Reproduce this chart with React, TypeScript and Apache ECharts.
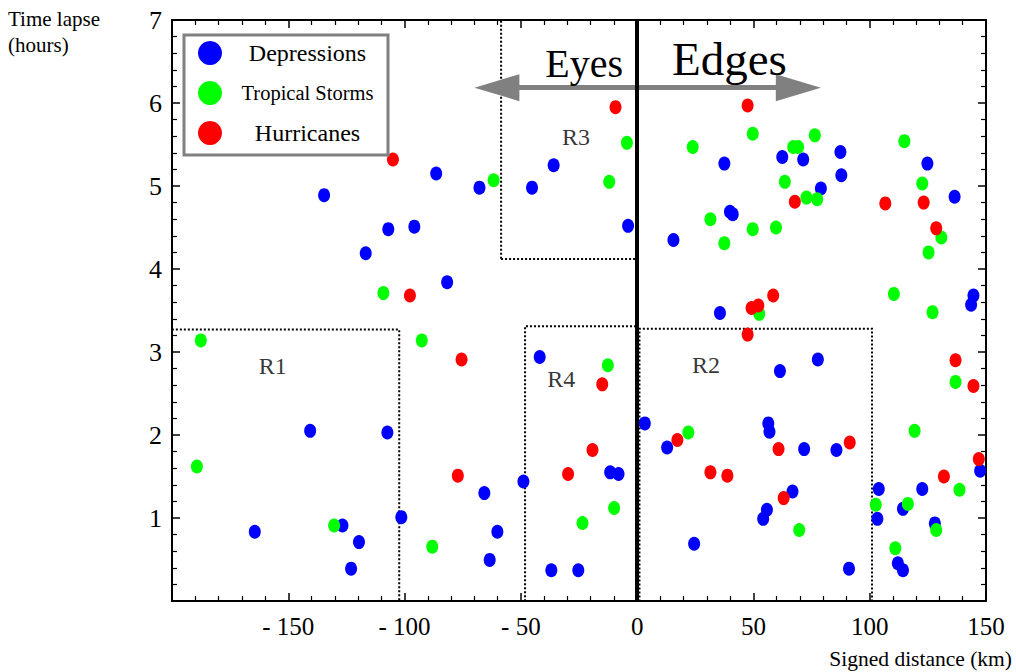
import React, { useEffect, useRef } from "react";
import * as echarts from "echarts";

const SERIF = '"Liberation Serif", "Times New Roman", Times, serif';

// [signed distance (km), time lapse (hours)]
const depressions: [number, number][] = [
  [-134.6, 4.89], [-86.4, 5.15], [-107, 4.48], [-95.8, 4.51], [-116.7, 4.19], [-81.7, 3.84],
  [-140.6, 2.05], [-107.4, 2.03], [-101.4, 1.01], [-126.7, 0.91], [-164.4, 0.835], [-119.6, 0.71], [-123, 0.39],
  [-41.9, 2.94], [3.3, 2.14], [12.9, 1.85], [-11.6, 1.55], [-8, 1.53], [-48.9, 1.44], [-65.7, 1.3],
  [-60.1, 0.835], [24.5, 0.69], [-63.4, 0.495], [-36.9, 0.37], [-25.3, 0.37],
  [-35.9, 5.25], [-67.8, 4.98], [-45.2, 4.98], [-3.9, 4.52],
  [37.5, 5.27], [62.4, 5.35], [71.4, 5.32], [87.4, 5.41], [87.8, 5.13], [79, 4.97], [39.9, 4.69], [41.1, 4.66], [15.6, 4.35],
  [124.8, 5.27], [136.5, 4.87], [144.6, 3.68], [143.6, 3.57],
  [35.6, 3.47], [77.7, 2.91], [61.4, 2.77], [56.4, 2.14], [56.9, 2.04], [71.8, 1.83], [85.7, 1.82], [66.8, 1.32],
  [55.8, 1.1], [54.2, 0.99], [91.1, 0.39],
  [147.5, 1.57], [103.9, 1.35], [122.6, 1.35], [114.3, 1.11], [103.3, 0.99], [128, 0.935], [112.1, 0.455], [114.3, 0.37],
];

const tropicalStorms: [number, number][] = [
  [-109.1, 3.71], [-187.6, 3.14], [-92.6, 3.14], [-189.3, 1.62], [-130.3, 0.91], [-88.1, 0.655],
  [-12.6, 2.84], [22, 2.03], [-9.9, 1.12], [-23.5, 0.94],
  [-4.4, 5.52], [-61.7, 5.07], [-12, 5.05],
  [49.7, 5.63], [23.9, 5.47], [67.1, 5.47], [69.2, 5.47], [76.4, 5.61], [63.5, 5.05], [72.8, 4.86], [77.4, 4.84],
  [31.5, 4.6], [49.7, 4.48], [59.7, 4.5], [37.5, 4.31],
  [114.9, 5.54], [122.6, 5.03], [130.8, 4.38], [125.3, 4.2], [110.4, 3.7], [127, 3.48],
  [52.5, 3.46], [69.7, 0.855],
  [136.9, 2.64], [119.3, 2.05], [138.6, 1.34], [102.6, 1.16], [116.4, 1.17], [128.6, 0.855], [111, 0.635],
];

const hurricanes: [number, number][] = [
  [-105, 5.32], [-97.7, 3.68], [-75.5, 2.91], [-15, 2.61], [17.3, 1.94], [-19.2, 1.82], [-77.1, 1.51], [-29.7, 1.53],
  [-9.3, 5.95], [47.5, 5.97], [67.8, 4.81],
  [106.7, 4.79], [123.2, 4.8], [128.6, 4.49], [136.9, 2.9],
  [58.5, 3.68], [49.2, 3.53], [52.1, 3.56], [47.5, 3.21], [60.8, 1.83], [91.4, 1.91], [31.5, 1.55], [38.8, 1.51], [63, 1.24],
  [144.6, 2.59], [146.9, 1.71], [131.9, 1.5],
];

// dotted regions: [x0, y0, x1, y1]
const regionNames = ["R1", "R2", "R3", "R4"];
const regionBoxes: [number, number, number, number][] = [
  [-200, 0, -102.3, 3.27],
  [1, 0, 101, 3.28],
  [-58.5, 4.12, 0, 7],
  [-48.2, 0, 0, 3.31],
];
const regionLabelPos: [number, number][] = [
  [-156.7, 2.83],
  [29.6, 2.84],
  [-26.3, 5.59],
  [-32.6, 2.67],
];

const xRange = { min: -200, max: 150, interval: 50 };
const yRange = { min: 0, max: 7, interval: 1 };
const arrowEnds: [number, number] = [-60.3, 69.3];
const arrowY = 6.185;

const seriesNames = ["Depressions", "Tropical Storms", "Hurricanes"];
const seriesColors = ["#0000ff", "#00ff00", "#ff0000"];

function xLabel(v: number): string {
  if (v === xRange.min) return "";
  return v < 0 ? "- " + -v : String(v);
}

function makeAxis(range: { min: number; max: number; interval: number }, position: string, label: any) {
  return {
    type: "value",
    min: range.min,
    max: range.max,
    interval: range.interval,
    position,
    splitLine: { show: false },
    axisLine: { show: true, onZero: false, lineStyle: { color: "#000", width: 2 } },
    axisTick: { show: true, inside: true, length: 8, lineStyle: { color: "#000", width: 1.5 } },
    minorTick: { show: true, splitNumber: 5, length: 5, lineStyle: { color: "#000", width: 1.2 } },
    axisLabel: label,
  };
}

export default function App() {
  const ref = useRef<HTMLDivElement>(null);

  useEffect(() => {
    document.body.style.margin = "0";
    if (!ref.current) return;
    const chart = echarts.init(ref.current, undefined, { renderer: "svg" });

    const dataSets = [depressions, tropicalStorms, hurricanes];

    chart.setOption({
      animation: false,
      backgroundColor: "#fff",
      grid: { left: 172, right: 30, top: 20, bottom: 71 },
      xAxis: [
        makeAxis(xRange, "bottom", {
          show: true,
          margin: 13,
          color: "#000",
          fontFamily: SERIF,
          fontSize: 25,
          formatter: xLabel,
        }),
        makeAxis(xRange, "top", { show: false }),
      ],
      yAxis: [
        makeAxis(yRange, "left", {
          show: true,
          margin: 10,
          color: "#000",
          fontFamily: SERIF,
          fontSize: 26,
          showMinLabel: false,
          formatter: (v: number) => (v === 0 ? "" : String(v)),
        }),
        makeAxis(yRange, "right", { show: false }),
      ],
      legend: {
        orient: "vertical",
        left: 184,
        top: 35,
        data: seriesNames,
        icon: "circle",
        itemWidth: 24,
        itemHeight: 24,
        itemGap: 16,
        padding: [6, 0, 10, 14],
        borderColor: "#808080",
        borderWidth: 3,
        backgroundColor: "#fff",
        selectedMode: false,
        formatter: (name: string) => {
          const key = name === "Tropical Storms" ? "s" : "b";
          return `{${key}|${name}}`;
        },
        textStyle: {
          rich: {
            b: { width: 161, align: "center", fontFamily: SERIF, fontSize: 24, lineHeight: 24, color: "#000" },
            s: { width: 161, align: "center", fontFamily: SERIF, fontSize: 20.5, lineHeight: 24, color: "#000" },
          },
        },
      },
      series: [
        {
          name: "annotations",
          type: "scatter",
          data: [],
          silent: true,
          z: 1,
          markArea: {
            silent: true,
            itemStyle: {
              color: "rgba(0,0,0,0)",
              borderColor: "#000",
              borderWidth: 2,
              borderType: [2, 2],
            },
            label: { show: false },
            data: regionBoxes.map((b, i) => [
              { name: regionNames[i], coord: [b[0], b[1]] },
              { coord: [b[2], b[3]] },
            ]),
          },
          markLine: {
            silent: true,
            symbol: ["none", "none"],
            label: { show: false },
            data: [
              [
                {
                  coord: [arrowEnds[0], arrowY],
                  symbol: "triangle",
                  symbolSize: [27, 45],
                  lineStyle: { color: "#808080", width: 5, type: "solid" },
                  itemStyle: { color: "#808080" },
                },
                {
                  coord: [arrowEnds[1], arrowY],
                  symbol: "triangle",
                  symbolSize: [27, 45],
                  itemStyle: { color: "#808080" },
                },
              ],
              [
                { coord: [0, yRange.min], symbol: "none", lineStyle: { color: "#000", width: 4, type: "solid" } },
                { coord: [0, yRange.max], symbol: "none" },
              ],
            ],
          },
        },
        ...dataSets.map((d, i) => ({
          name: seriesNames[i],
          type: "scatter",
          data: d,
          symbol: "circle",
          symbolSize: [12, 14],
          itemStyle: { color: seriesColors[i], opacity: 1 },
          z: 3,
        })),
        {
          name: "regions",
          type: "scatter",
          silent: true,
          symbolSize: 0,
          z: 4,
          data: regionLabelPos.map((p, i) => ({ name: regionNames[i], value: p })),
          label: {
            show: true,
            position: "inside",
            formatter: "{b}",
            color: "#000",
            fontFamily: SERIF,
            fontSize: 24,
          },
        },
      ],
      graphic: [
        {
          type: "text",
          left: 8,
          top: 6,
          style: {
            text: "Time lapse\n(hours)",
            fill: "#000",
            font: `21px ${SERIF}`,
            lineHeight: 26,
          },
        },
        {
          type: "text",
          right: 4,
          top: 648,
          style: {
            text: "Signed distance (km)",
            fill: "#000",
            font: `21.5px ${SERIF}`,
          },
        },
        {
          type: "text",
          x: 623,
          y: 63,
          style: {
            text: "Eyes",
            fill: "#000",
            font: `40px ${SERIF}`,
            textAlign: "right",
            textVerticalAlign: "middle",
          },
          z: 10,
        },
        {
          type: "text",
          x: 672,
          y: 59,
          style: {
            text: "Edges",
            fill: "#000",
            font: `47px ${SERIF}`,
            textAlign: "left",
            textVerticalAlign: "middle",
          },
          z: 10,
        },
      ],
    });

    return () => chart.dispose();
  }, []);

  return <div ref={ref} style={{ width: 1016, height: 672 }} />;
}
